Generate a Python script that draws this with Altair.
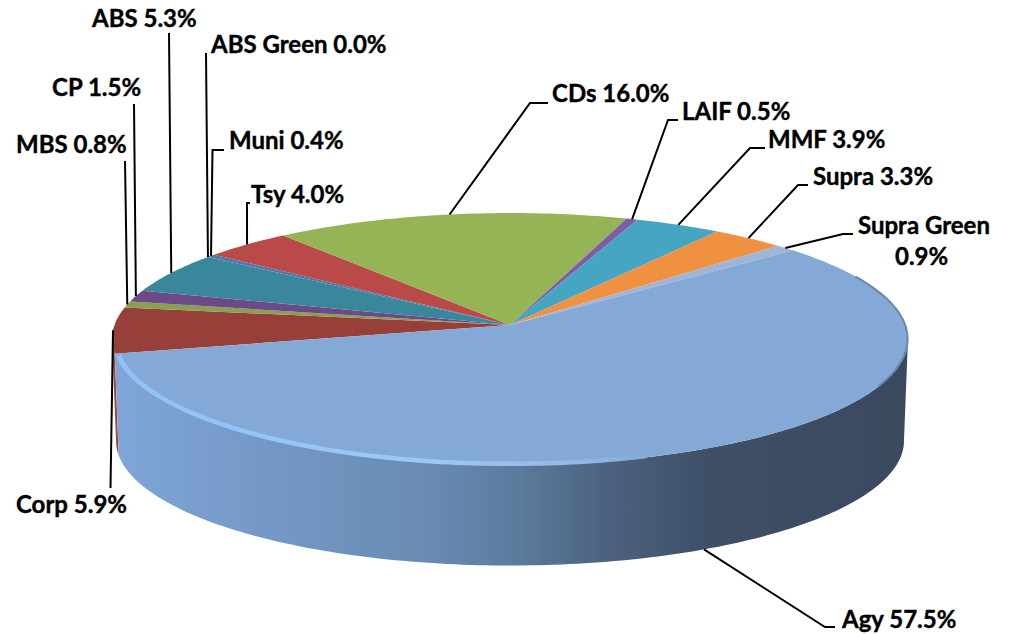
import math
import altair as alt

# ---- values (clockwise from the big slice)
names = ["Agy", "Corp", "MBS", "CP", "ABS", "ABS Green", "Muni", "Tsy", "CDs", "LAIF", "MMF", "Supra", "Supra Green"]
shares = [57.5, 5.9, 0.8, 1.5, 5.3, 0.0, 0.4, 4.0, 16.0, 0.5, 3.9, 3.3, 0.9]
colors = ["#85A9D6", "#97403A", "#8B9F50", "#6B4A87", "#3A879B", "#F79646", "#5078AA",
          "#BA4A47", "#95B455", "#805CA5", "#46A5C3", "#F09141", "#A0B4D7"]

# ---- layout: perspective of the pie disc, in page pixels
CX, CY, A, B, K = 510.0, 325.0, 395.5, 124.4, 1 / 9
START = -40.0
DEPTH, BOTTOM_SCALE = 102.0, 0.99

# label text, anchor (left x, centre y), elbow points of its leader line
labels = {
    "Agy":   ("Agy 57.5%", 842, 621, [(825, 627), (835, 627)]),
    "Corp":  ("Corp 5.9%", 16, 506, [(110.5, 488)]),
    "MBS":   ("MBS 0.8%", 16, 146, [(125, 161)]),
    "CP":    ("CP 1.5%", 52, 89, [(134, 104)]),
    "ABS":   ("ABS 5.3%", 92, 20, [(169, 33)]),
    "ABS Green": ("ABS Green 0.0%", 211, 46, [(206, 53)]),
    "Muni":  ("Muni 0.4%", 229, 142, [(212.5, 150), (224, 150)]),
    "Tsy":   ("Tsy 4.0%", 251, 196, [(247, 203), (250, 203)]),
    "CDs":   ("CDs 16.0%", 552, 95, [(530, 103), (548, 103)]),
    "LAIF":  ("LAIF 0.5%", 682, 113, [(668, 120), (678, 120)]),
    "MMF":   ("MMF 3.9%", 768, 141, [(750, 148), (765, 148)]),
    "Supra": ("Supra 3.3%", 813, 178, [(798, 185), (808, 185)]),
    "Supra Green": ("Supra Green", 858, 227, [(843, 234), (853, 234)]),
}
extra_text = [("0.9%", 895, 258)]


def rim(t_deg, bottom=False, inset=1.0):
    t = math.radians(t_deg)
    w = 1 - K * math.sin(t)
    x = A * math.cos(t) / w * inset
    y = B * math.sin(t) / w * inset
    if bottom:
        return [CX + x * BOTTOM_SCALE, CY + DEPTH + y * BOTTOM_SCALE]
    return [CX + x, CY + y]


def arc(t0, t1, **kw):
    n = max(2, int(abs(t1 - t0)) + 1)
    return [rim(t0 + (t1 - t0) * i / n, **kw) for i in range(n + 1)]


def poly(points, color="#000000"):
    return {"type": "Feature", "properties": {"color": color},
            "geometry": {"type": "Polygon", "coordinates": [points + [points[0]]]}}


def path(points):
    return {"type": "Feature", "properties": {},
            "geometry": {"type": "LineString", "coordinates": points}}


total = sum(shares)
edges = [START]
for s in shares:
    edges.append(edges[-1] + s / total * 360)
span = {n: (edges[i], edges[i + 1]) for i, n in enumerate(names)}

slices = []
for i, n in enumerate(names):
    if shares[i] > 0 and n != "Agy":
        t0, t1 = span[n]
        slices.append(poly([[CX, CY]] + arc(t0, t1), colors[i]))
agy0, agy1 = span["Agy"]
agy_top = [poly([[CX, CY]] + arc(agy0, agy1), colors[0])]

RIGHT = math.degrees(math.asin(K))
LEFT = 180 - RIGHT
side_agy = [poly(arc(RIGHT, agy1) + arc(agy1, RIGHT, bottom=True))]
side_red = [poly(arc(agy1, LEFT) + arc(LEFT, agy1, bottom=True), "#A8453F")]

leaders = []
for n in names:
    t0, t1 = span[n]
    start = rim((t0 + t1) / 2, bottom=(n == "Agy"))
    leaders.append(path([start] + [list(p) for p in labels[n][3]]))

text_rows = [{"label": v[0], "lon": v[1], "lat": v[2]} for v in labels.values()]
text_rows += [{"label": a, "lon": b, "lat": c} for a, b, c in extra_text]

# ---- chart
proj = alt.Projection(type="identity", scale=1, translate=[-8, -8])


def gradient(stops):
    return alt.Gradient(gradient="linear", x1=0, x2=1, y1=0, y2=0,
                        stops=[alt.GradientStop(offset=o, color=c) for o, c in stops])


def shapes(features, **mark):
    return alt.Chart(alt.Data(values=features)).mark_geoshape(**mark).project(**proj.to_dict())


fill_color = alt.Color("properties.color:N", scale=None, legend=None)

layers = [
    shapes(side_red, strokeWidth=0).encode(color=fill_color),
    shapes(side_agy, strokeWidth=0, fill=gradient([
        (0.0, "#7FA6D8"), (0.2, "#7498C5"), (0.4, "#688AB3"), (0.5, "#5D7C9F"),
        (0.62, "#4C627F"), (0.75, "#3E4F67"), (1.0, "#3A495E")])),
    shapes(slices, strokeWidth=0).encode(color=fill_color),
    shapes(agy_top, strokeWidth=0).encode(color=fill_color),
    shapes([path(arc(agy1 - 1, 72, inset=0.992))], filled=False, strokeWidth=4.5, stroke=gradient([
        (0.0, "#90C2F8"), (0.6, "#9CC8F5"), (0.85, "#92BAE8"), (1.0, "#87ABD8")])),
    shapes([path(arc(-24, 28, inset=0.999))], filled=False, strokeWidth=2, stroke="#6D86A6"),
    shapes(leaders, filled=False, stroke="#000000", strokeWidth=2),
    alt.Chart(alt.Data(values=text_rows)).mark_text(
        font="Lato", fontWeight="bold", fontSize=24, align="left", baseline="middle",
        color="#000000", stroke="#000000", strokeWidth=0.4,
    ).encode(longitude="lon:Q", latitude="lat:Q", text="label:N").project(**proj.to_dict()),
]

chart = alt.layer(*layers).properties(
    width=997, height=626, padding=0, background="white",
    autosize=alt.AutoSizeParams(type="none"),
).configure_view(stroke=None)

chart.save("out.html", embed_options={"renderer": "svg", "actions": False})
